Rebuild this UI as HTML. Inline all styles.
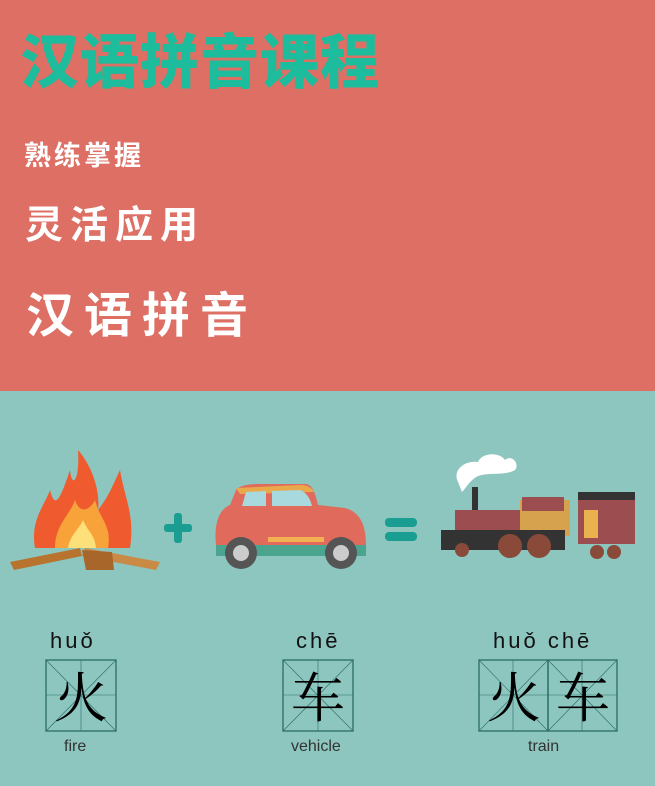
<!DOCTYPE html>
<html><head><meta charset="utf-8"><style>
body{margin:0;width:655px;height:786px;overflow:hidden;font-family:"Liberation Sans","Noto Sans CJK SC",sans-serif;}
.top{position:absolute;left:0;top:0;width:655px;height:391px;background:#dd6f64;}
.bot{position:absolute;left:0;top:391px;width:655px;height:395px;background:#8dc5bf;}
.t{position:absolute;white-space:nowrap;line-height:1;}
.cjk{font-family:"Noto Sans CJK SC","WenQuanYi Zen Hei",sans-serif;}
.py{position:absolute;font-size:22px;color:#111;letter-spacing:3px;line-height:1;}
.en{position:absolute;font-size:16px;color:#333;line-height:1;}
</style></head><body>
<div class="top"></div>
<div class="bot"></div>
<div class="t cjk" style="left:20px;top:28px;font-size:59px;font-weight:900;color:#1dbc9c;letter-spacing:1px;">汉语拼音课程</div>
<div class="t cjk" style="left:24px;top:140px;font-size:27px;font-weight:700;color:#fff;letter-spacing:3px;">熟练掌握</div>
<div class="t cjk" style="left:25px;top:203px;font-size:38px;font-weight:700;color:#fff;letter-spacing:7px;">灵活应用</div>
<div class="t cjk" style="left:26px;top:287px;font-size:48px;font-weight:700;color:#fff;letter-spacing:10px;">汉语拼音</div>

<svg style="position:absolute;left:0;top:0" width="655" height="786">
 <g>
  <polygon points="10,562 80,548 82,556 14,570" fill="#b8732f"/>
  <polygon points="85,548 160,562 156,570 82,556" fill="#c98a45"/>
  <polygon points="82,550 112,552 114,570 86,570" fill="#a8662a"/>
  <path d="M35,548 C30,520 45,505 50,490 C55,510 60,500 70,470 C72,490 80,480 78,450 C95,470 100,495 98,510 C110,495 115,480 120,470 C125,500 135,515 130,548 Z" fill="#ef5a2f"/>
  <path d="M55,548 C55,525 70,515 75,500 C80,515 90,510 95,500 C100,520 112,525 108,548 Z" fill="#f8a33a"/>
  <path d="M68,548 C70,535 80,528 83,520 C88,532 95,535 96,548 Z" fill="#fde07a"/>
 </g>
 <g fill="#1a9e91">
  <rect x="164" y="524" width="28" height="8" rx="3"/><rect x="174" y="513" width="8" height="30" rx="3"/>
 </g>
 <g>
  <path d="M236,490 C240,485 250,484 260,484 L305,484 C312,484 315,492 318,505 L345,508 C360,512 366,525 366,545 L216,545 C214,525 218,510 230,505 Z" fill="#e06b5c"/>
  <path d="M236,488 L300,485 C308,485 312,488 314,492 L240,494 Z" fill="#e9a84a"/>
  <path d="M242,506 L246,492 L266,491 L266,506 Z" fill="#a8d9de"/>
  <path d="M272,491 L300,490 C306,492 310,498 312,506 L272,506 Z" fill="#a8d9de"/>
  <rect x="268" y="537" width="56" height="5" fill="#f1b153"/>
  <rect x="216" y="545" width="150" height="11" fill="#4aa48e"/>
  <circle cx="241" cy="553" r="16" fill="#555"/><circle cx="241" cy="553" r="8" fill="#ccc"/>
  <circle cx="341" cy="553" r="16" fill="#555"/><circle cx="341" cy="553" r="8" fill="#ccc"/>
 </g>
 <g fill="#1a9e91">
  <rect x="385" y="518" width="32" height="9" rx="4"/><rect x="385" y="532" width="32" height="9" rx="4"/>
 </g>
 <g>
  <path d="M458,482 C452,470 465,460 478,462 C482,452 500,452 505,460 C512,454 520,464 515,470 C505,476 490,472 478,476 C470,480 466,488 462,492 Z" fill="#fff"/>
  <rect x="472" y="487" width="6" height="25" fill="#333"/>
  <rect x="455" y="510" width="70" height="20" fill="#9b4d4f"/>
  <rect x="520" y="500" width="50" height="36" fill="#d7a24d"/>
  <rect x="522" y="497" width="42" height="14" fill="#9b4d4f"/>
  <rect x="441" y="530" width="124" height="20" fill="#333"/>
  <rect x="578" y="498" width="57" height="46" fill="#9b4d4f"/>
  <rect x="578" y="492" width="57" height="8" fill="#333"/>
  <rect x="584" y="510" width="14" height="28" fill="#e9b24f"/>
  <circle cx="462" cy="550" r="7" fill="#8a4a3a"/>
  <circle cx="510" cy="546" r="12" fill="#8a4a3a"/><circle cx="539" cy="546" r="12" fill="#8a4a3a"/>
  <circle cx="597" cy="552" r="7" fill="#8a4a3a"/><circle cx="614" cy="552" r="7" fill="#8a4a3a"/>
 </g>
 <g stroke="#2a6e66" fill="none">
  <rect x="46" y="660" width="70" height="71" stroke-width="1.3"/>
  <path d="M46,660 L116,731 M116,660 L46,731 M81,660 V731 M46,695 H116" stroke-width="0.6"/>
  <rect x="283" y="660" width="70" height="71" stroke-width="1.3"/>
  <path d="M283,660 L353,731 M353,660 L283,731 M318,660 V731 M283,695 H353" stroke-width="0.6"/>
  <rect x="479" y="660" width="69" height="71" stroke-width="1.3"/>
  <path d="M479,660 L548,731 M548,660 L479,731 M513,660 V731 M479,695 H548" stroke-width="0.6"/>
  <rect x="548" y="660" width="69" height="71" stroke-width="1.3"/>
  <path d="M548,660 L617,731 M617,660 L548,731 M582,660 V731 M548,695 H617" stroke-width="0.6"/>
 </g>
</svg>

<div class="py" style="left:50px;top:630px;">huǒ</div>
<div class="py" style="left:296px;top:630px;">chē</div>
<div class="py" style="left:493px;top:630px;">huǒ chē</div>
<div class="t" style="left:54px;top:668px;font-size:54px;font-family:'Noto Serif CJK SC',serif;">火</div>
<div class="t" style="left:291px;top:668px;font-size:54px;font-family:'Noto Serif CJK SC',serif;">车</div>
<div class="t" style="left:487px;top:668px;font-size:54px;font-family:'Noto Serif CJK SC',serif;letter-spacing:15px;">火车</div>
<div class="en" style="left:64px;top:739px;">fire</div>
<div class="en" style="left:291px;top:739px;">vehicle</div>
<div class="en" style="left:528px;top:739px;">train</div>
</body></html>
